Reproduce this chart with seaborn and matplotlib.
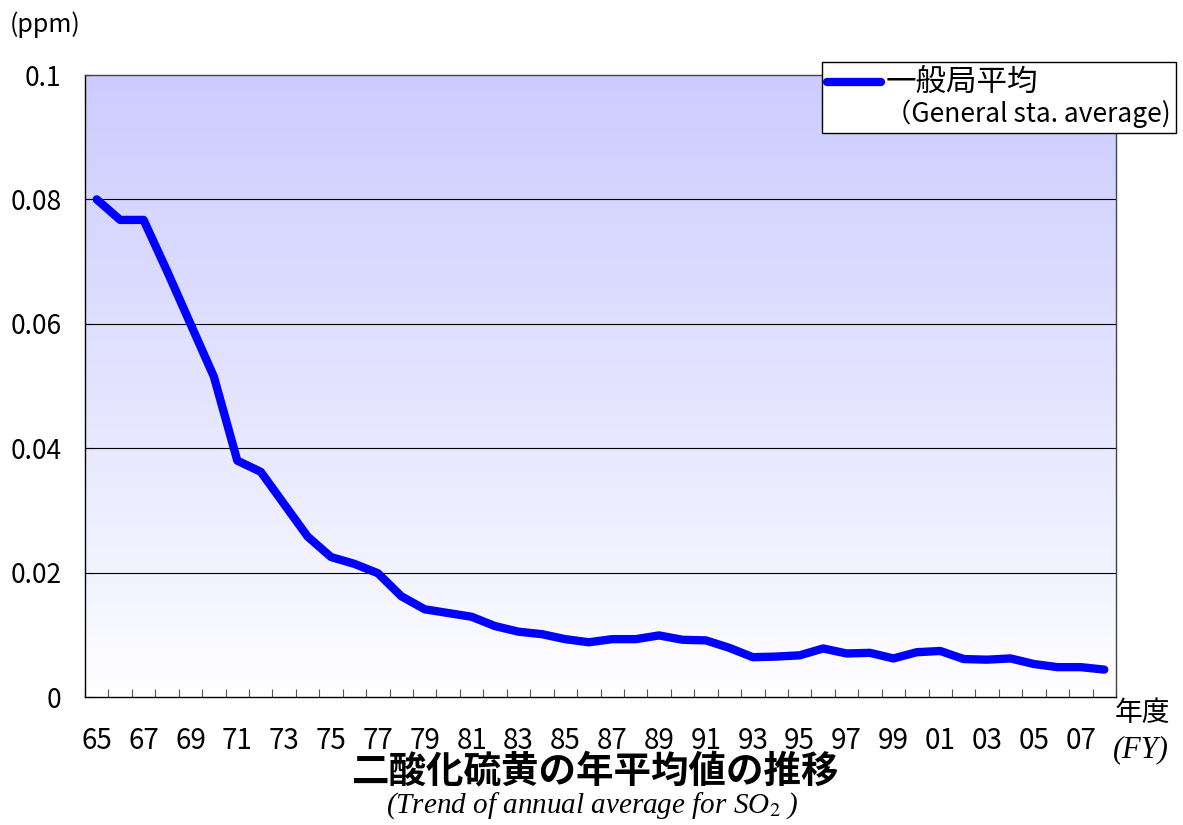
import numpy as np
import pandas as pd
import seaborn as sns
import matplotlib.pyplot as plt
from matplotlib.lines import Line2D

# --- data (annual SO2 average, general stations, ppm) ---
years = ['65', '66', '67', '68', '69', '70', '71', '72', '73', '74', '75',
         '76', '77', '78', '79', '80', '81', '82', '83', '84', '85', '86',
         '87', '88', '89', '90', '91', '92', '93', '94', '95', '96', '97',
         '98', '99', '00', '01', '02', '03', '04', '05', '06', '07', '08']
so2_avg = [0.0800, 0.0767, 0.0767, 0.0685, 0.0600, 0.0515, 0.0380, 0.0362,
           0.0310, 0.0258, 0.0225, 0.0214, 0.0199, 0.0162, 0.0141, 0.0135,
           0.0129, 0.0114, 0.0105, 0.0101, 0.0093, 0.0088, 0.0093, 0.0093,
           0.0099, 0.0092, 0.0091, 0.0079, 0.0064, 0.0065, 0.0067, 0.0078,
           0.0070, 0.0071, 0.0062, 0.0072, 0.0074, 0.0061, 0.0060, 0.0062,
           0.0053, 0.0048, 0.0048, 0.0044]
y_ticks = [0, 0.02, 0.04, 0.06, 0.08, 0.1]
y_tick_labels = ['0', '0.02', '0.04', '0.06', '0.08', '0.1']
series_name = '一般局平均'
series_name_en = '（General sta. average)'

df = pd.DataFrame({'idx': np.arange(len(years)), 'year': years, 'so2': so2_avg})

sns.set_style('white')
plt.rcParams['font.family'] = ['Noto Sans CJK JP', 'DejaVu Sans']
plt.rcParams['mathtext.fontset'] = 'stix'
plt.rcParams['text.color'] = 'black'
plt.rcParams['xtick.labelcolor'] = 'black'
plt.rcParams['ytick.labelcolor'] = 'black'

fig = plt.figure(figsize=(11.83, 8.25), dpi=100)
ax = fig.add_axes([85 / 1183, 1 - 697 / 825, (1116 - 85) / 1183, (697 - 75) / 825])

# gradient background: lavender at top fading to white
grad = np.linspace(0, 1, 256).reshape(-1, 1)
top = np.array([204, 204, 255]) / 255
bottom = np.array([255, 255, 255]) / 255
img = bottom + (top - bottom) * grad[::-1] ** 0.9
ax.imshow(img.reshape(256, 1, 3), extent=[0, 1, 0, 1], transform=ax.transAxes,
          aspect='auto', zorder=0, origin='upper')

# grid lines
for v in y_ticks[1:-1]:
    ax.axhline(v, color='black', lw=0.8, zorder=1)

sns.lineplot(data=df, x='idx', y='so2', color='#0000FF', lw=6,
             solid_capstyle='round', solid_joinstyle='round', ax=ax, zorder=3)

ax.set_xlim(-0.5, len(years) - 0.5)
ax.set_ylim(0, 0.1)
ax.set_xlabel('')
ax.set_ylabel('')

# x ticks: labels every other year, tick marks at category boundaries
ax.set_xticks(df['idx'][::2])
ax.set_xticklabels(df['year'][::2])
ax.set_xticks(np.arange(len(years) + 1) - 0.5, minor=True)
ax.tick_params(axis='x', which='major', length=0, pad=21, labelsize=20)
ax.tick_params(axis='x', which='minor', direction='in', length=6, width=0.8,
               color='#555555', bottom=True)

ax.set_yticks(y_ticks)
ax.set_yticklabels(y_tick_labels)
ax.tick_params(axis='y', which='major', direction='in', length=6, width=0.8,
               pad=17, labelsize=19, left=True)

for side, sp in ax.spines.items():
    sp.set_visible(True)
    sp.set_color('black')
    sp.set_linewidth(1.0)
ax.spines['top'].set_color('#444444')
ax.spines['right'].set_color('#444444')

# legend (two rows, second one without a line)
handles = [Line2D([0], [0], color='#0000FF', lw=6, solid_capstyle='round'),
           Line2D([0], [0], color='none')]
leg = fig.legend(handles, [series_name, series_name_en], loc='upper left',
                 bbox_to_anchor=(822 / 1183, 1 - 62 / 825), bbox_transform=fig.transFigure,
                 frameon=True, fancybox=False, framealpha=1, edgecolor='black',
                 fontsize=19, handlelength=2.05, handletextpad=0.15,
                 borderpad=0.2, labelspacing=0.05, borderaxespad=0)
leg.get_texts()[0].set_fontsize(22)
leg.get_frame().set_linewidth(1.0)

# text annotations
fig.text(45 / 1183, 1 - 25 / 825, '(ppm)', fontsize=18, ha='center', va='center')
fig.text(1142 / 1183, 1 - 713 / 825, '年度', fontsize=20, ha='center', va='center')
fig.text(1141 / 1183, 1 - 750 / 825, '(FY)', fontsize=22, ha='center', va='center',
         family='Liberation Serif', style='italic')
fig.text(596 / 1183, 1 - 771 / 825, '二酸化硫黄の年平均値の推移', fontsize=27,
         fontweight='bold', ha='center', va='center')
fig.text(592 / 1183, 1 - 806 / 825, r'(Trend of annual average for SO$_{\mathit{2}}$ )',
         fontsize=21, ha='center', va='center', family='Liberation Serif', style='italic')

fig.savefig('out.png', dpi=100)
